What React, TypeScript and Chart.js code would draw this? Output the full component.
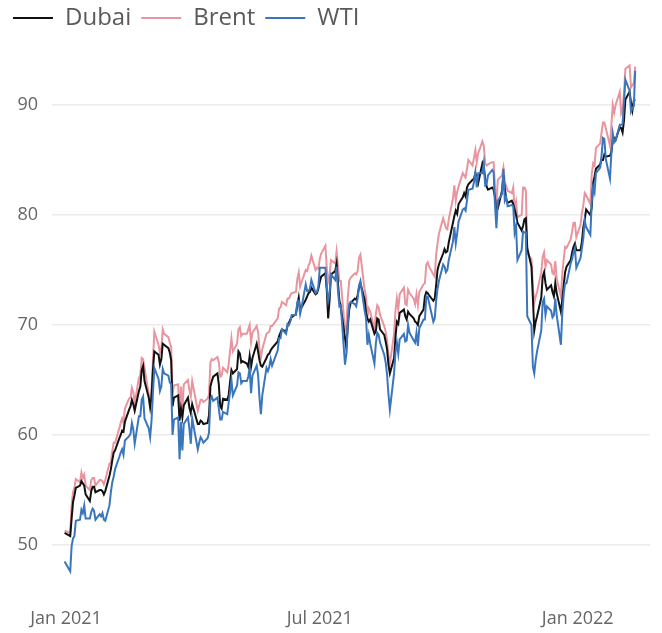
import React, { useEffect, useRef } from "react";
import { Chart, registerables } from "chart.js";

Chart.register(...registerables);

const dates = [
  "2020-12-31",
  "2021-01-04","2021-01-05","2021-01-06","2021-01-07","2021-01-08","2021-01-11","2021-01-12","2021-01-13","2021-01-14","2021-01-15","2021-01-18","2021-01-19","2021-01-20","2021-01-21","2021-01-22","2021-01-25","2021-01-26","2021-01-27","2021-01-28","2021-01-29",
  "2021-02-01","2021-02-02","2021-02-03","2021-02-04","2021-02-05","2021-02-08","2021-02-09","2021-02-10","2021-02-11","2021-02-12","2021-02-15","2021-02-16","2021-02-17","2021-02-18","2021-02-19","2021-02-22","2021-02-23","2021-02-24","2021-02-25","2021-02-26",
  "2021-03-01","2021-03-02","2021-03-03","2021-03-04","2021-03-05","2021-03-08","2021-03-09","2021-03-10","2021-03-11","2021-03-12","2021-03-15","2021-03-16","2021-03-17","2021-03-18","2021-03-19","2021-03-22","2021-03-23","2021-03-24","2021-03-25","2021-03-26","2021-03-29","2021-03-30","2021-03-31",
  "2021-04-01","2021-04-05","2021-04-06","2021-04-07","2021-04-08","2021-04-09","2021-04-12","2021-04-13","2021-04-14","2021-04-15","2021-04-16","2021-04-19","2021-04-20","2021-04-21","2021-04-22","2021-04-23","2021-04-26","2021-04-27","2021-04-28","2021-04-29","2021-04-30",
  "2021-05-03","2021-05-04","2021-05-05","2021-05-06","2021-05-07","2021-05-10","2021-05-11","2021-05-12","2021-05-13","2021-05-14","2021-05-17","2021-05-18","2021-05-19","2021-05-20","2021-05-21","2021-05-24","2021-05-25","2021-05-26","2021-05-27","2021-05-28",
  "2021-06-01","2021-06-02","2021-06-03","2021-06-04","2021-06-07","2021-06-08","2021-06-09","2021-06-10","2021-06-11","2021-06-14","2021-06-15","2021-06-16","2021-06-17","2021-06-18","2021-06-21","2021-06-22","2021-06-23","2021-06-24","2021-06-25","2021-06-28","2021-06-29","2021-06-30",
  "2021-07-01","2021-07-02","2021-07-05","2021-07-06","2021-07-07","2021-07-08","2021-07-09","2021-07-12","2021-07-13","2021-07-14","2021-07-15","2021-07-16","2021-07-19","2021-07-20","2021-07-21","2021-07-22","2021-07-23","2021-07-26","2021-07-27","2021-07-28","2021-07-29","2021-07-30",
  "2021-08-02","2021-08-03","2021-08-04","2021-08-05","2021-08-06","2021-08-09","2021-08-10","2021-08-11","2021-08-12","2021-08-13","2021-08-16","2021-08-17","2021-08-18","2021-08-19","2021-08-20","2021-08-23","2021-08-24","2021-08-25","2021-08-26","2021-08-27","2021-08-30","2021-08-31",
  "2021-09-01","2021-09-02","2021-09-03","2021-09-06","2021-09-07","2021-09-08","2021-09-09","2021-09-10","2021-09-13","2021-09-14","2021-09-15","2021-09-16","2021-09-17","2021-09-20","2021-09-21","2021-09-22","2021-09-23","2021-09-24","2021-09-27","2021-09-28","2021-09-29","2021-09-30",
  "2021-10-01","2021-10-04","2021-10-05","2021-10-06","2021-10-07","2021-10-08","2021-10-11","2021-10-12","2021-10-13","2021-10-14","2021-10-15","2021-10-18","2021-10-19","2021-10-20","2021-10-21","2021-10-22","2021-10-25","2021-10-26","2021-10-27","2021-10-28","2021-10-29",
  "2021-11-01","2021-11-02","2021-11-03","2021-11-04","2021-11-05","2021-11-08","2021-11-09","2021-11-10","2021-11-11","2021-11-12","2021-11-15","2021-11-16","2021-11-17","2021-11-18","2021-11-19","2021-11-22","2021-11-23","2021-11-24","2021-11-25","2021-11-26","2021-11-29","2021-11-30",
  "2021-12-01","2021-12-02","2021-12-03","2021-12-06","2021-12-07","2021-12-08","2021-12-09","2021-12-10","2021-12-13","2021-12-14","2021-12-15","2021-12-16","2021-12-17","2021-12-20","2021-12-21","2021-12-22","2021-12-23","2021-12-24","2021-12-27","2021-12-28","2021-12-29","2021-12-30","2021-12-31",
  "2022-01-03","2022-01-04","2022-01-05","2022-01-06","2022-01-07","2022-01-10","2022-01-11","2022-01-12","2022-01-13","2022-01-14","2022-01-17","2022-01-18","2022-01-19","2022-01-20","2022-01-21","2022-01-24","2022-01-25","2022-01-26","2022-01-27","2022-01-28","2022-01-31",
  "2022-02-01","2022-02-02","2022-02-03","2022-02-04","2022-02-07","2022-02-08","2022-02-09","2022-02-10","2022-02-11",
];

const dubai = [
  51.1,
  50.8,52.4,53.9,54.5,55.2,55.4,55.8,55.6,55.4,54.6,54.0,54.9,55.3,55.3,54.8,55.0,55.0,54.9,54.6,54.9,
  56.3,56.9,57.7,58.4,58.6,59.7,60.0,60.4,60.3,61.2,62.3,62.6,63.2,62.8,62.2,64.0,64.4,65.9,66.3,64.9,
  63.4,62.5,63.5,65.9,67.6,67.3,66.4,66.9,68.3,68.2,67.9,67.5,66.8,62.6,63.4,63.6,61.3,62.4,61.6,62.7,63.4,62.5,62.0,
  62.8,61.0,61.0,61.3,61.2,61.0,61.1,61.8,64.4,64.9,65.3,65.6,64.6,62.6,62.4,63.3,63.2,63.6,64.8,65.9,65.6,
  66.0,67.6,67.4,66.6,66.7,66.5,66.2,67.2,66.2,67.0,68.3,67.6,66.8,66.3,66.2,67.0,67.3,67.4,67.7,67.9,
  68.5,69.0,69.3,69.6,69.4,69.9,70.2,70.5,70.7,71.0,71.8,72.5,71.4,71.6,72.3,72.6,72.9,73.0,73.4,72.8,72.9,73.3,
  73.9,74.4,74.7,73.2,70.6,72.3,74.6,74.9,75.6,73.8,72.2,71.6,68.8,67.9,69.9,71.4,72.0,72.4,72.3,72.7,73.4,73.8,
  72.3,71.1,70.6,70.3,70.5,69.2,69.4,70.6,70.5,69.6,69.1,68.5,67.8,66.4,65.6,67.0,68.9,70.3,70.1,71.1,71.4,70.8,
  70.5,71.2,71.0,70.6,70.3,70.2,70.0,70.8,71.4,72.6,73.0,72.9,72.7,72.2,72.4,73.6,75.0,75.5,76.5,76.9,76.6,76.7,
  77.5,79.3,79.9,80.4,80.1,81.0,81.6,82.0,81.7,82.5,82.8,83.2,83.3,83.8,83.4,82.9,84.7,84.3,83.3,82.6,82.3,
  82.5,82.3,81.6,80.3,80.6,82.2,83.6,82.4,81.4,81.1,81.3,81.0,80.5,80.0,79.3,78.6,79.0,79.6,79.7,77.0,75.3,72.5,
  69.5,70.3,70.8,72.5,74.4,74.8,73.8,73.2,73.6,73.0,72.6,73.8,72.9,71.2,72.3,73.6,74.8,75.3,75.9,76.6,77.1,77.4,76.8,
  76.8,77.6,78.9,79.6,80.5,80.0,80.7,82.9,83.5,84.2,84.6,85.0,85.0,85.5,85.3,85.4,85.7,86.8,87.0,86.8,88.0,
  87.9,87.5,88.6,90.5,91.2,90.2,89.5,90.4,90.5,
];

const brent = [
  51.3,
  51.1,53.6,54.8,55.2,56.0,55.7,56.6,56.1,56.4,55.4,55.0,55.9,56.1,56.1,55.4,55.9,55.9,55.8,55.5,55.9,
  57.4,57.5,58.5,59.3,59.3,60.6,61.1,61.5,61.1,62.4,63.3,63.4,64.3,63.9,62.9,65.2,65.4,67.0,66.9,66.1,
  63.7,63.3,64.1,66.7,69.4,68.2,67.5,67.9,69.6,69.2,68.9,68.4,68.0,63.8,64.5,64.6,61.5,64.4,62.0,64.6,65.0,64.1,63.5,
  64.9,62.2,62.7,63.2,63.2,63.0,63.3,63.7,66.6,66.9,66.8,67.1,66.6,65.3,65.4,66.1,65.7,66.4,67.6,68.8,67.6,
  68.3,69.6,69.8,69.0,69.2,69.2,69.6,70.0,68.4,69.3,69.9,69.4,67.8,67.0,67.8,69.2,69.3,69.4,69.9,69.9,
  70.6,71.5,71.6,72.1,71.8,72.4,72.4,72.7,72.9,73.0,74.2,74.8,73.5,73.9,75.0,74.9,75.4,75.7,76.3,75.0,75.2,75.1,
  76.0,76.5,77.2,75.2,74.0,74.5,75.9,75.6,76.7,75.3,74.0,74.0,69.5,69.8,72.5,74.0,74.3,74.7,74.6,74.9,76.1,76.4,
  73.2,72.6,70.8,71.5,71.2,69.6,71.0,71.8,71.6,70.9,69.9,69.4,68.6,67.2,66.5,69.2,71.3,72.4,71.4,72.8,73.4,71.9,
  71.8,73.2,72.9,72.4,71.9,72.8,71.8,73.0,73.7,73.8,75.5,75.7,75.3,74.6,74.4,76.4,77.4,78.3,79.7,79.3,78.8,78.7,
  79.6,81.5,82.7,81.3,82.1,82.6,83.8,83.6,83.4,84.2,85.0,84.5,85.2,85.9,84.8,85.6,86.7,86.3,84.7,84.5,84.6,
  84.8,84.8,82.5,81.0,83.2,83.6,84.3,83.0,82.6,82.2,82.0,82.5,80.5,81.2,79.8,80.0,82.5,82.5,82.2,76.5,76.0,73.5,
  72.0,72.6,73.0,74.8,76.2,76.6,75.3,75.9,75.5,74.7,74.6,75.8,74.2,72.6,74.7,76.0,77.1,77.0,77.8,78.5,79.3,79.3,78.0,
  79.1,80.2,80.9,82.0,81.8,81.0,83.7,84.7,84.5,86.1,86.5,87.5,88.4,88.4,87.9,86.3,88.2,90.0,89.3,90.0,91.2,
  89.2,89.5,91.1,93.3,93.6,91.6,91.8,92.0,93.5,
];

const wti = [
  48.5,
  47.6,49.9,50.6,50.8,52.2,52.3,53.2,52.9,53.6,52.4,52.4,53.0,53.3,53.1,52.3,52.8,52.6,52.9,52.3,52.2,
  53.6,54.8,55.7,56.2,56.9,58.0,58.4,58.7,58.2,59.5,59.9,60.1,61.1,60.5,59.2,61.7,61.7,63.2,63.5,61.5,
  60.6,59.8,61.3,63.8,66.1,65.1,64.0,64.4,66.0,65.6,65.4,64.8,64.6,60.0,61.4,61.6,57.8,61.2,58.6,61.0,61.6,60.6,59.2,
  61.5,58.7,59.3,59.8,59.6,59.3,59.7,60.2,63.2,63.5,63.1,63.4,62.4,61.4,61.4,62.1,61.9,62.9,63.9,65.0,63.6,
  64.5,65.7,65.6,64.7,64.9,64.9,65.3,66.1,63.8,65.4,66.3,65.5,63.4,61.9,63.6,66.1,65.8,66.2,66.9,66.3,
  67.7,68.8,68.8,69.6,69.2,70.1,70.0,70.3,70.9,70.9,72.1,72.2,71.0,71.6,73.7,73.1,73.1,73.3,74.1,72.9,73.0,73.5,
  75.2,75.2,75.2,73.4,72.2,72.9,74.6,74.1,75.3,73.1,71.7,71.8,66.4,67.4,70.3,71.9,72.1,71.9,71.7,72.4,73.6,74.0,
  71.3,70.6,68.2,69.1,68.3,66.5,68.3,69.3,69.1,68.4,67.3,66.6,65.5,63.7,62.3,65.6,67.5,68.4,67.4,68.7,69.2,68.5,
  68.6,70.0,69.3,68.6,68.4,69.3,68.1,69.7,70.5,70.5,72.6,72.6,72.0,70.3,70.6,72.2,73.3,74.0,75.5,75.3,74.8,75.0,
  75.9,77.6,78.9,77.4,78.3,79.4,80.5,80.6,80.4,81.3,82.3,82.4,83.0,83.9,82.5,83.8,83.8,84.7,82.7,82.8,83.6,
  84.1,83.9,80.9,78.8,81.3,81.9,84.2,81.3,81.6,80.8,80.9,80.8,78.4,79.0,75.9,76.8,78.5,78.4,78.4,70.8,70.0,66.2,
  65.6,66.8,67.6,69.5,72.1,72.4,70.9,71.7,71.3,70.7,70.9,72.4,70.9,68.2,71.1,72.8,73.8,73.8,75.6,76.0,76.6,77.0,75.2,
  76.1,77.0,77.9,79.5,78.9,78.2,81.2,82.6,82.1,83.8,84.3,85.4,87.0,86.9,85.1,83.3,85.6,87.4,86.6,86.8,88.2,
  88.2,88.3,90.3,92.3,91.3,89.4,89.7,89.9,93.1,
];

const seriesNames = ["Dubai", "Brent", "WTI"];
const seriesColors = ["#111111", "#e8959f", "#3a76bd"];
const drawOrder = [1, 2, 0];

const tickDates = ["2021-01-01", "2021-07-01", "2022-01-01"];
const tickLabels = ["Jan 2021", "Jul 2021", "Jan 2022"];
const yTicks = [50, 60, 70, 80, 90];

const EPOCH = Date.UTC(2021, 0, 1);
const toDay = (s: string) => {
  const [y, m, d] = s.split("-").map(Number);
  return (Date.UTC(y, m - 1, d) - EPOCH) / 86400000;
};

const FONT = "'Open Sans', 'Noto Sans', sans-serif";

export default function App() {
  const ref = useRef<HTMLCanvasElement | null>(null);

  useEffect(() => {
    if (!ref.current) return;
    const days = dates.map(toDay);
    const series = [dubai, brent, wti];
    const chart = new Chart(ref.current, {
      type: "line",
      data: {
        datasets: series.map((vals, i) => ({
          label: seriesNames[i],
          data: vals.map((v, j) => ({ x: days[j], y: v })),
          borderColor: seriesColors[i],
          backgroundColor: seriesColors[i],
          borderWidth: 2,
          pointRadius: 0,
          tension: 0,
          order: drawOrder[i],
        })),
      },
      options: {
        responsive: false,
        animation: false,
        devicePixelRatio: 1,
        layout: { padding: { left: 3, right: 12, top: 0, bottom: 0 } },
        plugins: {
          tooltip: { enabled: false },
          legend: {
            position: "top",
            align: "start",
            labels: {
              font: { family: FONT, size: 24 },
              color: "#5a5a5a",
              boxWidth: 40,
              boxHeight: 2,
              padding: 10,
              sort: (a: any, b: any) => a.datasetIndex - b.datasetIndex,
              generateLabels: (c: any) =>
                Chart.defaults.plugins.legend.labels
                  .generateLabels(c)
                  .map((l: any) => ({ ...l, lineWidth: 0 })),
            },
          },
        },
        scales: {
          x: {
            type: "linear",
            min: -9.99,
            max: 416.55,
            grid: { display: false },
            border: { display: false },
            afterBuildTicks: (axis: any) => {
              axis.ticks = tickDates.map((d) => ({ value: toDay(d) }));
            },
            afterFit: (axis: any) => {
              axis.height = 43;
            },
            ticks: {
              autoSkip: false,
              maxRotation: 0,
              minRotation: 0,
              padding: 10,
              color: "#666666",
              font: { family: FONT, size: 18 },
              callback: (_v: any, i: number) => tickLabels[i],
            },
          },
          y: {
            type: "linear",
            min: 45.909,
            max: 95.909,
            grid: { color: "#ebebeb", lineWidth: 1.5, drawTicks: false },
            border: { display: false },
            afterBuildTicks: (axis: any) => {
              axis.ticks = yTicks.map((v) => ({ value: v }));
            },
            afterFit: (axis: any) => {
              axis.width = 49;
            },
            ticks: {
              padding: 14,
              color: "#666666",
              font: { family: FONT, size: 18 },
              callback: (v: any) => String(v),
            },
          },
        },
      },
    });
    return () => chart.destroy();
  }, []);

  return (
    <canvas
      ref={ref}
      width={662}
      height={637}
      style={{ position: "absolute", left: 0, top: -4, display: "block" }}
    />
  );
}
